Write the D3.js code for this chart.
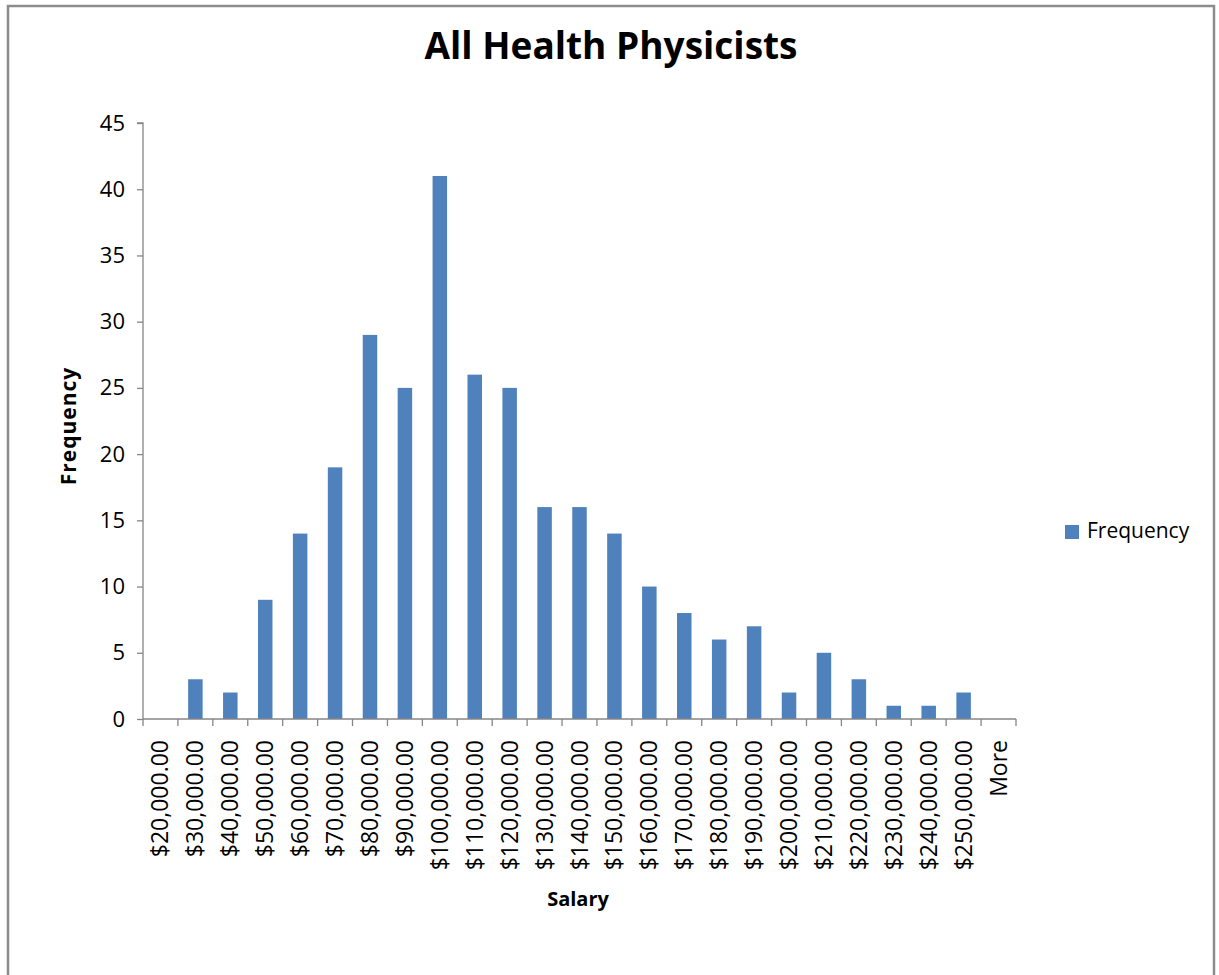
<!DOCTYPE html>
<html>
<head>
<meta charset="utf-8">
<script src="https://cdn.jsdelivr.net/npm/d3@7"></script>
<style>
  body{margin:0;background:#fff;}
  text{font-family:"Open Sans",sans-serif;fill:#000;}
</style>
</head>
<body>
<div id="chart"></div>
<script>
const categories=["$20,000.00","$30,000.00","$40,000.00","$50,000.00","$60,000.00","$70,000.00","$80,000.00","$90,000.00","$100,000.00","$110,000.00","$120,000.00","$130,000.00","$140,000.00","$150,000.00","$160,000.00","$170,000.00","$180,000.00","$190,000.00","$200,000.00","$210,000.00","$220,000.00","$230,000.00","$240,000.00","$250,000.00","More"];
const frequency=[0,3,2,9,14,19,29,25,41,26,25,16,16,14,10,8,6,7,2,5,3,1,1,2,0];
const yTicks=[0,5,10,15,20,25,30,35,40,45];

const w=1219, h=975;
const plotL=143, plotR=1016, plotT=123, plotB=719;

window.onload=()=>{
  const svg=d3.select("#chart").append("svg").attr("width",w).attr("height",h);

  // outer chart frame (bottom edge falls below the picture)
  svg.append("rect")
    .attr("x",8).attr("y",6).attr("width",1206).attr("height",1000)
    .attr("fill","#fff").attr("stroke","#8c8c8c").attr("stroke-width",2.5);

  const x=d3.scaleBand().domain(categories).range([plotL,plotR]).paddingInner(0.585).paddingOuter(0.2925);
  const xOuter=d3.scaleBand().domain(categories).range([plotL,plotR]);
  const y=d3.scaleLinear().domain([0,45]).range([plotB,plotT]);

  // bars
  svg.selectAll("rect.bar")
    .data(frequency)
    .enter()
    .append("rect")
    .attr("class","bar")
    .attr("x",(d,i)=>x(categories[i]))
    .attr("width",x.bandwidth())
    .attr("y",d=>y(d))
    .attr("height",d=>plotB-y(d))
    .attr("fill","#4f81bd");

  // y axis
  const yAxis=d3.axisLeft(y).tickValues(yTicks).tickSize(6).tickPadding(12);
  const gy=svg.append("g").attr("transform",`translate(${plotL},0)`).call(yAxis);
  gy.selectAll("path,line").attr("stroke","#868686").attr("stroke-width",1.3);
  gy.select(".domain").attr("d",`M-6,${plotT}H0V${plotB}`);
  gy.selectAll("text").style("font-size","22px").style("font-family","Open Sans").attr("fill","#000");

  // x axis: ticks at category boundaries
  const gx=svg.append("g").attr("transform",`translate(0,${plotB})`);
  gx.append("line").attr("x1",plotL).attr("x2",plotR).attr("stroke","#868686").attr("stroke-width",1.3);
  const bounds=categories.map(c=>xOuter(c)).concat([plotR]);
  gx.selectAll("line.tick")
    .data(bounds)
    .enter()
    .append("line")
    .attr("class","tick")
    .attr("x1",d=>d).attr("x2",d=>d).attr("y1",0).attr("y2",7)
    .attr("stroke","#868686").attr("stroke-width",1.3);
  gx.selectAll("text")
    .data(categories)
    .enter()
    .append("text")
    .attr("transform",c=>`translate(${xOuter(c)+xOuter.bandwidth()/2+8},21) rotate(-90)`)
    .attr("text-anchor","end")
    .style("font-size","23px")
    .text(c=>c);

  // title
  svg.append("text")
    .attr("x",611).attr("y",59)
    .attr("text-anchor","middle")
    .style("font-size","37px").style("font-weight","bold")
    .text("All Health Physicists");

  // axis titles
  svg.append("text")
    .attr("x",578).attr("y",906)
    .attr("text-anchor","middle")
    .style("font-size","20px").style("font-weight","bold")
    .text("Salary");
  svg.append("text")
    .attr("transform","translate(76,426) rotate(-90)")
    .attr("text-anchor","middle")
    .style("font-size","21px").style("font-weight","bold").style("letter-spacing","1px")
    .text("Frequency");

  // legend
  const lg=svg.append("g").attr("transform","translate(1065,525)");
  lg.append("rect").attr("width",14).attr("height",14).attr("fill","#4f81bd");
  lg.append("text").attr("x",22).attr("y",13).style("font-size","21px").text("Frequency");
};
</script>
</body>
</html>
